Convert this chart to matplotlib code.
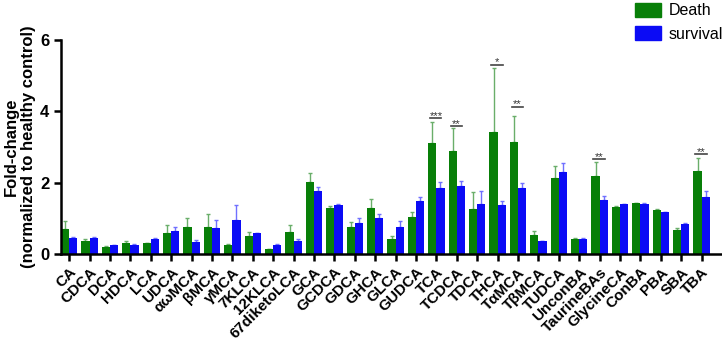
import numpy as np
import matplotlib.pyplot as plt
from matplotlib.patches import Patch

plt.rcParams['font.family'] = ['Liberation Sans', 'DejaVu Sans']

cats = ['CA', 'CDCA', 'DCA', 'HDCA', 'LCA', 'UDCA', 'αωMCA', 'βMCA', 'γMCA',
        '7KLCA', '12KLCA', '67diketoLCA', 'GCA', 'GCDCA', 'GDCA', 'GHCA',
        'GLCA', 'GUDCA', 'TCA', 'TCDCA', 'TDCA', 'THCA', 'TαMCA', 'TβMCA',
        'TUDCA', 'UnconBA', 'TaurineBAs', 'GlycineCA', 'ConBA', 'PBA', 'SBA',
        'TBA']

death = [0.70, 0.36, 0.21, 0.32, 0.30, 0.60, 0.77, 0.77, 0.25, 0.51, 0.14,
         0.63, 2.01, 1.30, 0.75, 1.28, 0.41, 1.04, 3.12, 2.89, 1.25, 3.41,
         3.13, 0.54, 2.14, 0.41, 2.19, 1.32, 1.43, 1.24, 0.68, 2.32]
death_err = [0.23, 0.06, 0.01, 0.04, 0.02, 0.21, 0.25, 0.36, 0.04, 0.10,
             0.01, 0.17, 0.26, 0.05, 0.16, 0.26, 0.09, 0.13, 0.58, 0.63,
             0.48, 1.80, 0.75, 0.10, 0.32, 0.04, 0.39, 0.02, 0.01, 0.01,
             0.05, 0.37]

surv = [0.44, 0.44, 0.25, 0.25, 0.43, 0.65, 0.33, 0.72, 0.96, 0.58, 0.26,
        0.37, 1.78, 1.37, 0.86, 1.01, 0.76, 1.48, 1.86, 1.92, 1.40, 1.36,
        1.84, 0.36, 2.29, 0.43, 1.51, 1.39, 1.41, 1.18, 0.85, 1.60]
surv_err = [0.04, 0.04, 0.01, 0.02, 0.03, 0.11, 0.06, 0.22, 0.40, 0.02,
            0.02, 0.06, 0.11, 0.02, 0.15, 0.12, 0.17, 0.11, 0.15, 0.13,
            0.37, 0.14, 0.14, 0.01, 0.25, 0.01, 0.11, 0.01, 0.01, 0.01,
            0.03, 0.17]

# significance marks: category index, height, label
sig_idx = [18, 19, 21, 22, 26, 31]
sig_y = [3.80, 3.59, 5.31, 4.13, 2.65, 2.79]
sig_txt = ['***', '**', '*', '**', '**', '**']

green = '#087f08'
blue = '#0b0bf5'

fig = plt.figure(figsize=(7.22, 3.41), dpi=100)
ax = fig.add_axes([61/722, 87/341, 660/722, 214/341])

x = np.arange(len(cats))
w = 0.40
ax.bar(x - w/2, death, w, color=green, zorder=2)
ax.bar(x + w/2, surv, w, color=blue, zorder=2)
ax.errorbar(x - w/2, death, yerr=[np.zeros(len(x)), death_err], fmt='none',
            ecolor='#6aae6a', elinewidth=1, capsize=1.5, capthick=1, zorder=1)
ax.errorbar(x + w/2, surv, yerr=[np.zeros(len(x)), surv_err], fmt='none',
            ecolor='#7070ff', elinewidth=1, capsize=1.5, capthick=1, zorder=1)

for i, yy, t in zip(sig_idx, sig_y, sig_txt):
    ax.plot([i - 0.3, i + 0.25], [yy, yy], color='#444444', lw=1.2)
    ax.text(i - 0.02, yy - 0.08, t, ha='center', va='bottom', fontsize=8,
            color='#333333')

ax.set_xlim(-0.4, 31.95)
ax.set_ylim(0, 6)
ax.set_yticks([0, 2, 4, 6])
ax.set_xticks(x)
ax.set_xticklabels(cats, rotation=45, ha='right', rotation_mode='anchor',
                   fontsize=11, fontweight='bold')
for lab in ax.get_yticklabels():
    lab.set_fontweight('bold')
    lab.set_fontsize(12)
ax.spines['top'].set_visible(False)
ax.spines['right'].set_visible(False)
ax.spines['left'].set_linewidth(1.8)
ax.spines['bottom'].set_linewidth(1.8)
ax.tick_params(axis='both', width=1.8, length=5)
ax.tick_params(axis='x', pad=3)
ax.set_ylabel('Fold-change\n(normalized to healthy control)', fontsize=12,
              fontweight='bold', labelpad=3)

handles = [Patch(color=green, label='Death'), Patch(color=blue, label='survival')]
fig.legend(handles=handles, loc='upper left', bbox_to_anchor=(627/722, 1.015),
           frameon=False, fontsize=11.5, handlelength=1.6, handleheight=0.95,
           handletextpad=0.5, labelspacing=0.5, borderpad=0)

fig.savefig('out.png', dpi=100)
